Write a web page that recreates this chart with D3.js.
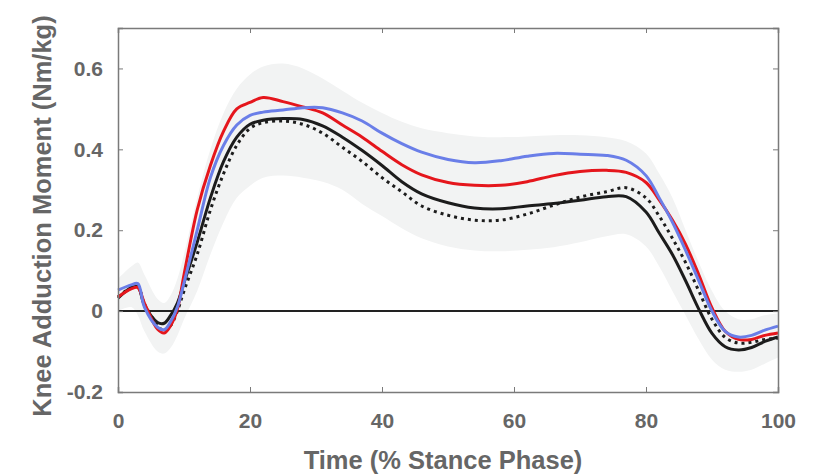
<!DOCTYPE html>
<html>
<head>
<meta charset="utf-8">
<script src="https://cdn.jsdelivr.net/npm/d3@7"></script>
<style>
  body { margin: 0; background: #fff; }
  text { font-family: "Liberation Sans", Arial, sans-serif; font-weight: bold; fill: #666; }
</style>
</head>
<body>
<div id="viz"></div>
<script>
// stance phase samples (%)
var stance = [0,2,3,4,6,7,8,9,10,12,14,16,18,20,22,25,28,31,34,37,40,43,46,50,54,58,62,66,70,74,77,80,82,84,86,88,90,92,94,96,98,100];

var blueLine = [0.052,0.065,0.068,0.01,-0.04,-0.046,-0.025,0.01,0.07,0.2,0.33,0.41,0.46,0.484,0.492,0.497,0.503,0.503,0.49,0.47,0.44,0.414,0.393,0.375,0.367,0.372,0.383,0.39,0.388,0.385,0.373,0.335,0.28,0.22,0.15,0.075,0.0,-0.05,-0.064,-0.06,-0.047,-0.037];
var redLine = [0.035,0.055,0.058,0.02,-0.045,-0.054,-0.035,0.005,0.09,0.25,0.36,0.445,0.5,0.516,0.528,0.518,0.505,0.49,0.46,0.43,0.395,0.362,0.337,0.318,0.311,0.311,0.32,0.335,0.345,0.348,0.343,0.318,0.275,0.225,0.165,0.09,0.008,-0.05,-0.07,-0.07,-0.06,-0.054];
var blackLine = [0.032,0.058,0.06,0.015,-0.028,-0.03,-0.01,0.02,0.07,0.17,0.28,0.37,0.43,0.462,0.472,0.476,0.474,0.458,0.43,0.397,0.36,0.32,0.29,0.268,0.255,0.253,0.26,0.266,0.274,0.283,0.283,0.245,0.193,0.14,0.075,0.005,-0.055,-0.088,-0.096,-0.09,-0.075,-0.064];
var dottedLine = [0.035,0.058,0.06,0.018,-0.035,-0.05,-0.035,0.0,0.05,0.14,0.25,0.34,0.41,0.452,0.466,0.47,0.462,0.44,0.405,0.37,0.33,0.295,0.26,0.237,0.225,0.225,0.24,0.262,0.282,0.295,0.305,0.28,0.235,0.18,0.12,0.05,-0.02,-0.065,-0.079,-0.077,-0.07,-0.067];
var bandUpper = [0.08,0.11,0.12,0.09,0.03,0.02,0.04,0.08,0.14,0.28,0.4,0.49,0.55,0.585,0.605,0.612,0.6,0.575,0.545,0.515,0.49,0.468,0.452,0.44,0.432,0.43,0.432,0.435,0.435,0.43,0.42,0.39,0.34,0.28,0.2,0.12,0.05,0.0,-0.02,-0.02,-0.01,-0.005];
var bandLower = [0.0,0.01,-0.01,-0.05,-0.1,-0.105,-0.09,-0.06,-0.02,0.05,0.14,0.22,0.28,0.31,0.33,0.335,0.33,0.32,0.3,0.265,0.235,0.205,0.18,0.16,0.15,0.148,0.152,0.158,0.17,0.185,0.19,0.16,0.11,0.05,-0.01,-0.07,-0.12,-0.145,-0.15,-0.145,-0.13,-0.115];

var xTicks = [0,20,40,60,80,100];
var yTicks = [-0.2,0,0.2,0.4,0.6];

var W = 818, H = 474,
    margin = {top: 28, right: 40, bottom: 82, left: 118},
    width = W - margin.left - margin.right,
    height = H - margin.top - margin.bottom;

var svg = d3.select("#viz").append("svg")
    .attr("width", W)
    .attr("height", H);

var g = svg.append("g")
    .attr("transform", "translate(" + margin.left + "," + margin.top + ")");

var x = d3.scaleLinear().domain([0, 100]).range([0, width]);
var y = d3.scaleLinear().domain([-0.2, 0.7]).range([height, 0]);

// shaded band
var area = d3.area()
    .x(function(d, i){ return x(stance[i]); })
    .y0(function(d, i){ return y(bandLower[i]); })
    .y1(function(d, i){ return y(bandUpper[i]); })
    .curve(d3.curveCatmullRom);

g.append("path")
    .datum(bandUpper)
    .attr("d", area)
    .attr("fill", "#f2f3f3");

// zero line
g.append("line")
    .attr("x1", x(0)).attr("x2", x(100))
    .attr("y1", y(0)).attr("y2", y(0))
    .attr("stroke", "#222")
    .attr("stroke-width", 2);

var line = d3.line()
    .x(function(d, i){ return x(stance[i]); })
    .y(function(d){ return y(d); })
    .curve(d3.curveCatmullRom);

var series = [
    {values: blackLine, color: "#1c1c1c", dash: null},
    {values: dottedLine, color: "#1c1c1c", dash: "3,4"},
    {values: redLine, color: "#e5161c", dash: null},
    {values: blueLine, color: "#6a7ee8", dash: null}
];

series.forEach(function(s){
    g.append("path")
        .datum(s.values)
        .attr("d", line)
        .attr("fill", "none")
        .attr("stroke", s.color)
        .attr("stroke-width", 3)
        .attr("stroke-dasharray", s.dash);
});

// axes box, MATLAB style inward ticks
var axisColor = "#7a7a7a";

var xAxis = g.append("g")
    .attr("transform", "translate(0," + height + ")")
    .call(d3.axisBottom(x).tickValues(xTicks).tickSize(-5).tickPadding(21).tickFormat(d3.format("d")));
var xTop = g.append("g")
    .call(d3.axisTop(x).tickValues(xTicks).tickSize(-5).tickFormat(""));
var yAxis = g.append("g")
    .call(d3.axisLeft(y).tickValues(yTicks).tickSize(-5).tickPadding(15)
        .tickFormat(function(d){ return d === 0 ? "0" : d.toFixed(1); }));
var yRight = g.append("g")
    .attr("transform", "translate(" + width + ",0)")
    .call(d3.axisRight(y).tickValues(yTicks).tickSize(-5).tickFormat(""));

[xAxis, xTop, yAxis, yRight].forEach(function(a){
    a.select(".domain").attr("stroke", axisColor).attr("stroke-width", 1.5);
    a.selectAll(".tick line").attr("stroke", axisColor);
    a.selectAll("text").style("font-size", "21px").attr("fill", "#666");
});

// axis titles
svg.append("text")
    .attr("x", margin.left + width / 2 - 5)
    .attr("y", 469)
    .attr("text-anchor", "middle")
    .style("font-size", "25.5px")
    .text("Time (% Stance Phase)");

svg.append("text")
    .attr("transform", "translate(51,216) rotate(-90)")
    .attr("text-anchor", "middle")
    .style("font-size", "25.5px")
    .text("Knee Adduction Moment (Nm/kg)");
</script>
</body>
</html>
